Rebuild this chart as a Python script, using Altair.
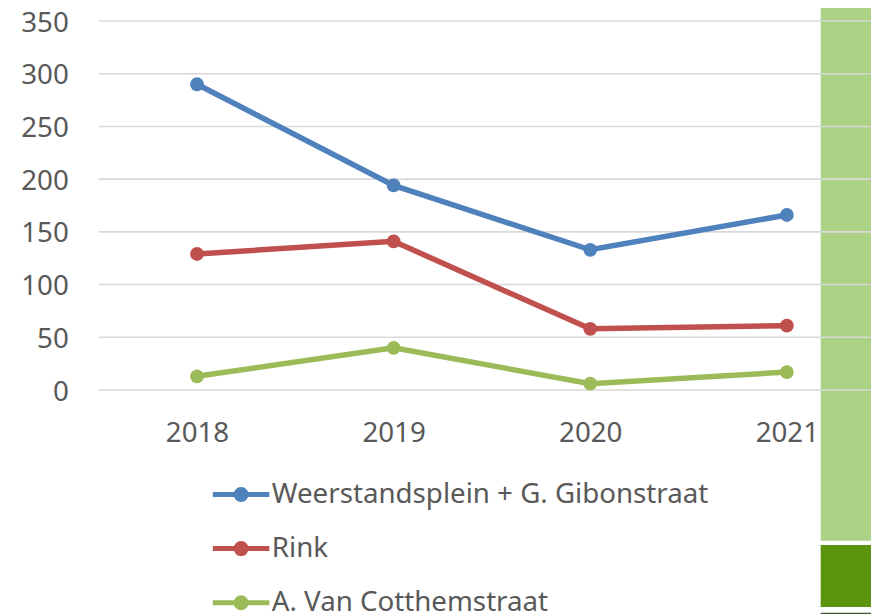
import altair as alt
import pandas as pd

# ---- data ----
years = [2018, 2019, 2020, 2021]
series = ["Weerstandsplein + G. Gibonstraat", "Rink", "A. Van Cotthemstraat"]
weerstandsplein = [290, 194, 133, 166]
rink = [129, 141, 58, 61]
van_cotthem = [13, 40, 6, 17]
colors = ["#4f81bd", "#c0504d", "#9bbb59"]
y_ticks = [0, 50, 100, 150, 200, 250, 300, 350]

rows = []
for name, vals in zip(series, [weerstandsplein, rink, van_cotthem]):
    for yr, v in zip(years, vals):
        rows.append({"jaar": yr, "aantal": v, "locatie": name})
df = pd.DataFrame(rows)
grid_df = pd.DataFrame({"aantal": y_ticks})
one = pd.DataFrame({"d": [0]})

FONT = "Noto Sans"
TXT = "#595959"
FS = 27.7

y_scale = alt.Scale(domain=[0, 350], nice=False, zero=True)
y_axis = alt.Axis(values=y_ticks, grid=False, domain=False, ticks=False,
                  labelPadding=30.4, labelOffset=2, title=None,
                  labelFont=FONT, labelFontSize=FS, labelColor=TXT, minExtent=90)
x_scale = alt.Scale(domain=[2017.5, 2021.428], nice=False, zero=False)
x_axis = alt.Axis(values=years, format="d", grid=False, domain=False, ticks=False,
                  labelPadding=29, title=None, labelFlush=False, labelOverlap=False,
                  labelFont=FONT, labelFontSize=FS, labelColor=TXT)
color_scale = alt.Scale(domain=series, range=colors)

# legend symbol: a line with a dot, drawn as strokes (unit = 14.125 px)
symbol_path = ("M-2,0H2 "
               "M0.177,0A0.177,0.177 0 1,1 -0.177,0A0.177,0.177 0 1,1 0.177,0Z "
               "M0.354,0A0.354,0.354 0 1,1 -0.354,0A0.354,0.354 0 1,1 0.354,0Z")
legend = alt.Legend(orient="none", legendX=125.4, legendY=456.5,
                    direction="vertical", title=None,
                    symbolType=symbol_path, symbolSize=798,
                    symbolStrokeWidth=5, symbolOpacity=1,
                    labelFont=FONT, labelFontSize=FS, labelColor=TXT,
                    labelOffset=13.7, rowPadding=21.1, padding=0,
                    labelLimit=1000)

# decorative green band at the right edge
band_light = alt.Chart(one).mark_rect(color="#acd286").encode(
    x=alt.value(722), x2=alt.value(790), y=alt.value(-14), y2=alt.value(519.7))
band_dark = alt.Chart(one).mark_rect(color="#5b940f").encode(
    x=alt.value(722), x2=alt.value(790), y=alt.value(524), y2=alt.value(586))
band_strip = alt.Chart(one).mark_rect(color="#3d5a2c").encode(
    x=alt.value(722), x2=alt.value(790), y=alt.value(591.7), y2=alt.value(640))

grid = alt.Chart(grid_df).mark_rule(color="#d9d9d9", strokeWidth=1.6).encode(
    y=alt.Y("aantal:Q", scale=y_scale, axis=y_axis))

base = alt.Chart(df)
enc = dict(
    x=alt.X("jaar:Q", scale=x_scale, axis=x_axis),
    y=alt.Y("aantal:Q", scale=y_scale, axis=y_axis),
    color=alt.Color("locatie:N", scale=color_scale, sort=series, legend=legend),
)
lines = base.mark_line(strokeWidth=5.5).encode(**enc)
points = base.mark_point(size=190, filled=True, opacity=1).encode(**enc)

chart = alt.layer(band_light, band_dark, band_strip, grid, lines, points).properties(
    width=772.3, height=369,
    padding={"left": 90.7, "top": 13, "right": 0, "bottom": 224},
    autosize=alt.AutoSizeParams(type="none"),
    background="white",
).configure_view(strokeWidth=0)

chart.save("out.html", embed_options={"renderer": "svg", "actions": False})
